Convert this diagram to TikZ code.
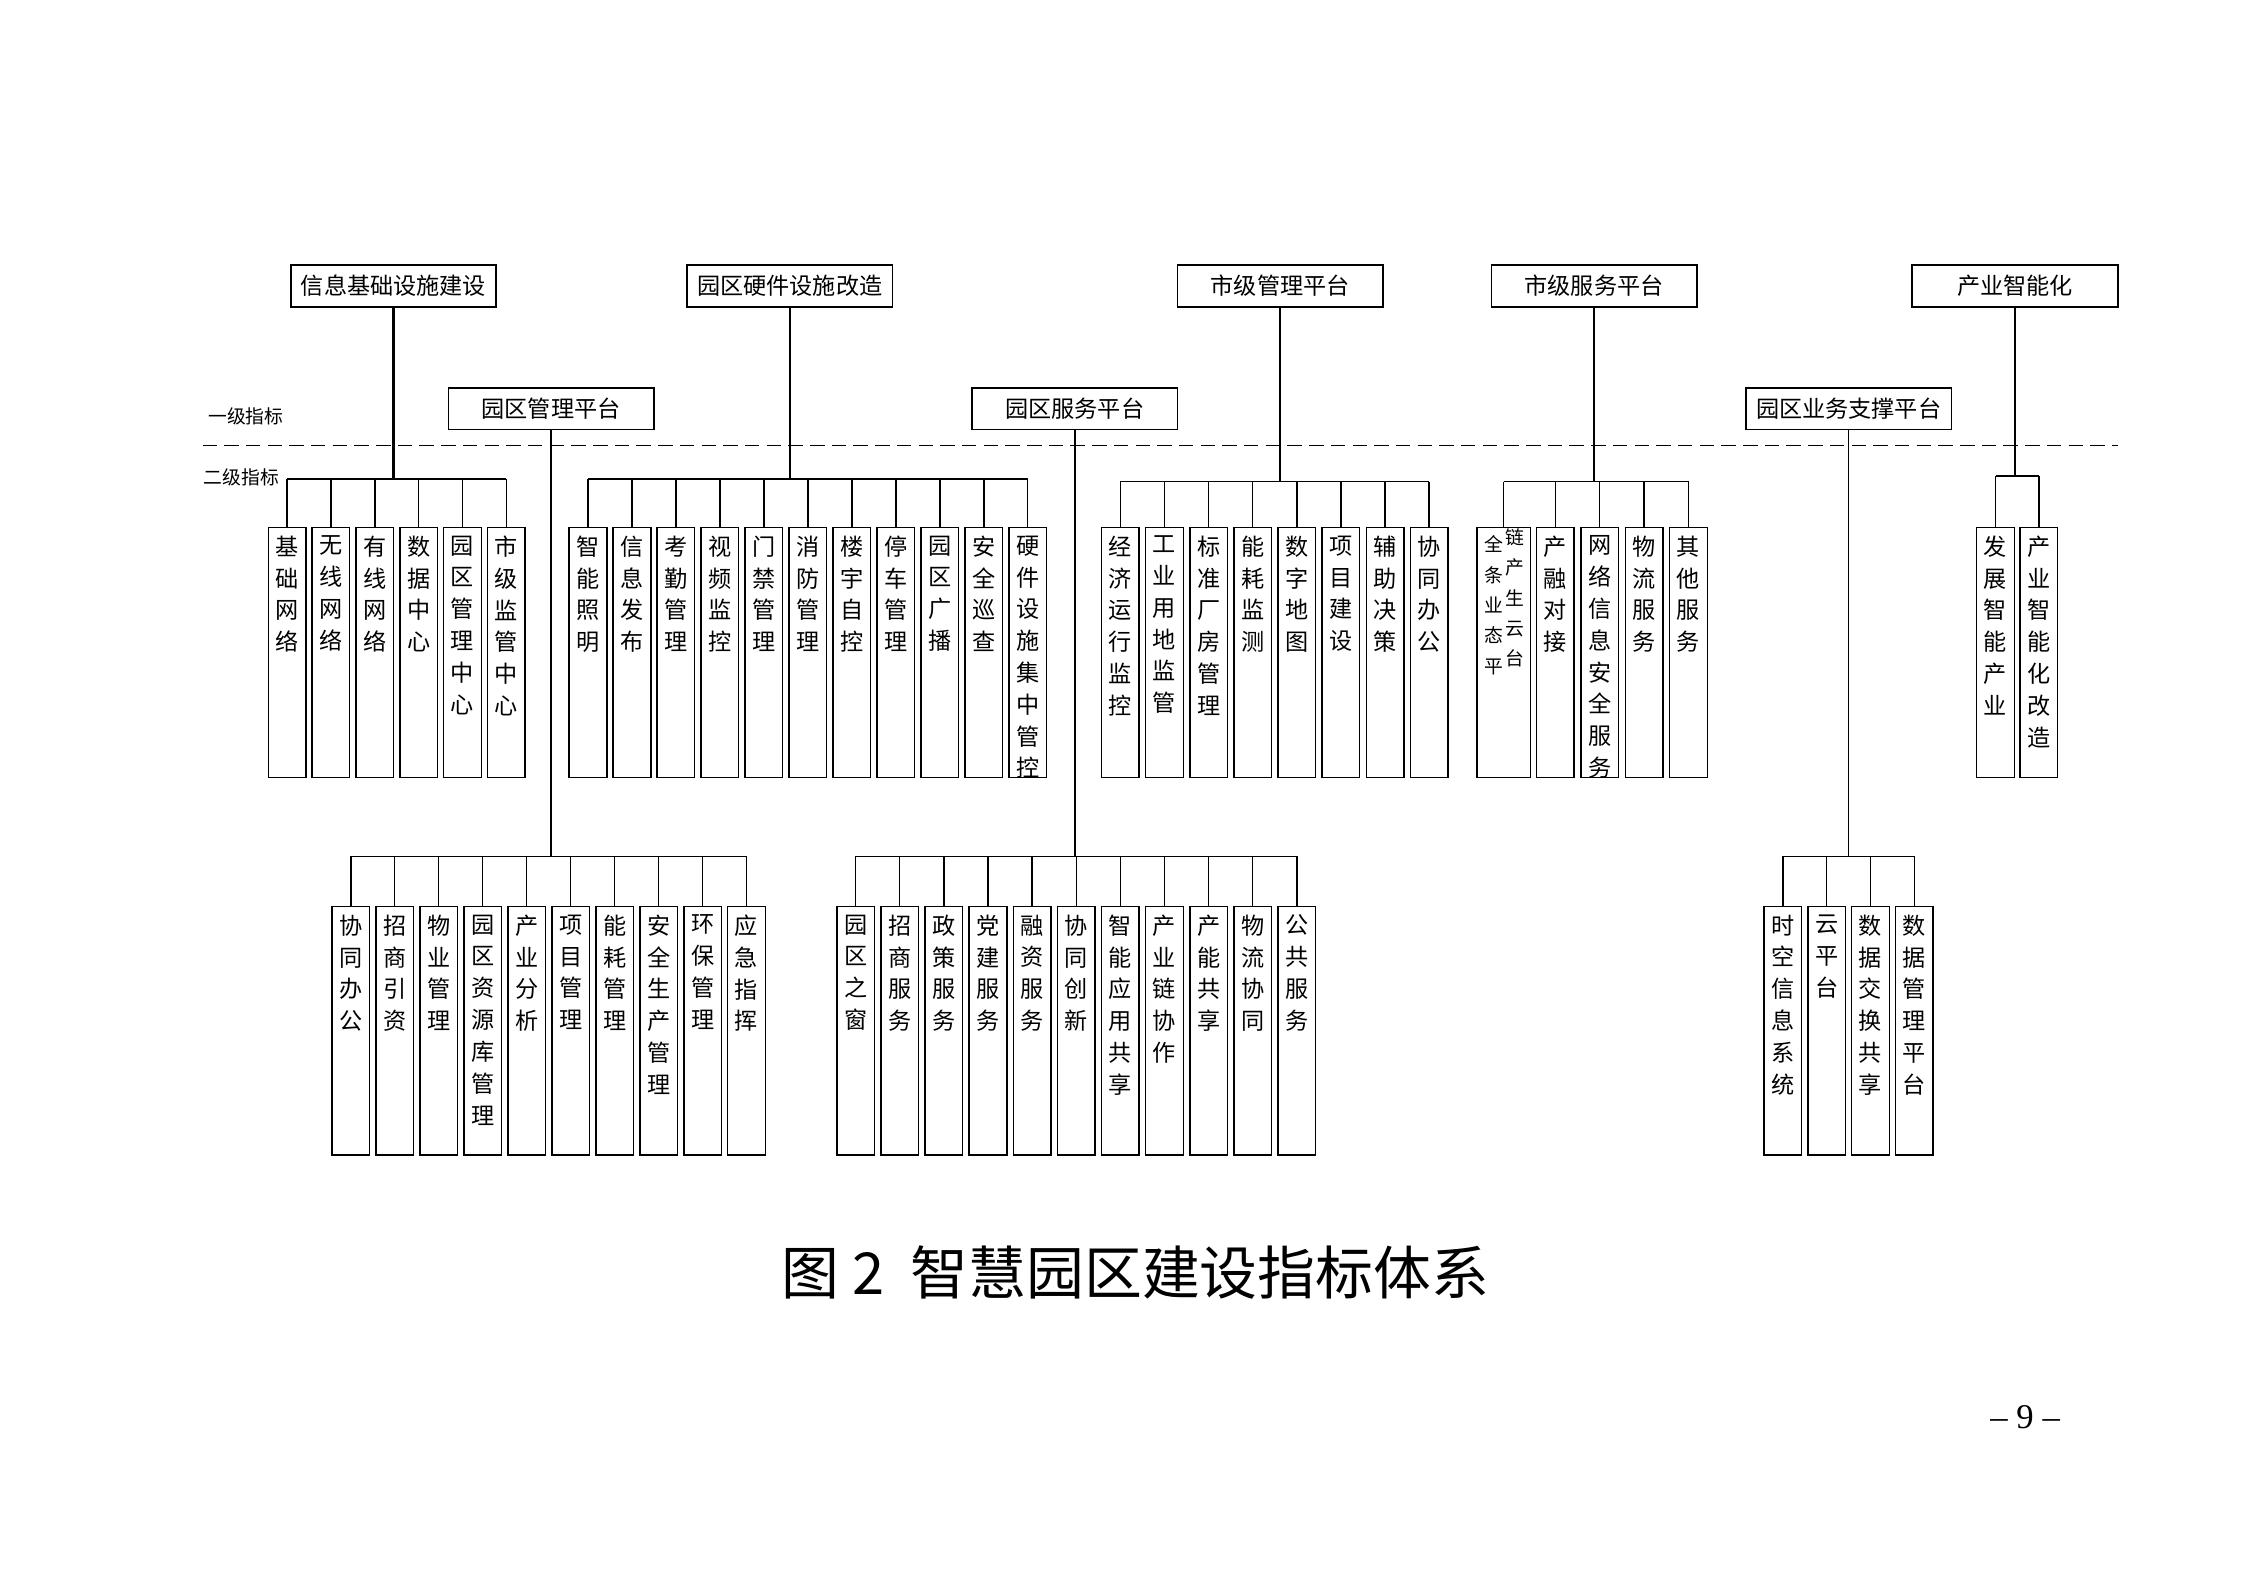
\documentclass[tikz,border=0pt]{standalone}
\usepackage{fontspec}
\newfontfamily\cjk{Noto Sans CJK SC}
\setmainfont{Liberation Serif}
\XeTeXlinebreaklocale "zh"
\XeTeXlinebreakskip=0pt plus 1pt
\tikzset{
  topbox/.style={draw,line width=0.6pt,minimum width=71pt,minimum height=14.5pt,inner sep=0pt,font=\cjk\fontsize{8}{9}\selectfont},
  leafbox/.style={draw,line width=0.5pt,minimum width=13pt,inner sep=0pt,anchor=north},
  vtext/.style={anchor=north,text width=9pt,align=center,inner sep=0pt,yshift=-3pt,font=\cjk\fontsize{8}{11}\selectfont},
  conn/.style={line width=0.5pt},
  thick conn/.style={line width=0.9pt},
  lbl/.style={font=\cjk\fontsize{6.5}{7}\selectfont,inner sep=0pt}
}
% #1 name, #2 x of first center, #3 pitch, #4 top y, #5 height(pt), #6 bus y, #7 list
\newcommand\leafgroup[7]{%
  \foreach \t [count=\i] in {#7}{%
    \pgfmathsetmacro\xx{#2+(\i-1)*#3}
    \node[leafbox,minimum height=#5] (#1\i) at (\xx,#4) {};
    \node[vtext] at (#1\i.north) {\t};
    \draw[conn] (#1\i.north) -- (\xx,#6);
  }%
}
\begin{document}
\begin{tikzpicture}[x=0.5pt,y=-0.5pt]
\useasboundingbox (0,0) rectangle (1552,1097);
% top level boxes
\node[topbox] (A) at (272,197.5) {信息基础设施建设};
\node[topbox] (B) at (546,197.5) {园区硬件设施改造};
\node[topbox] (C) at (885,197.5) {市级管理平台};
\node[topbox] (D) at (1102,197.5) {市级服务平台};
\node[topbox] (E) at (1393,197.5) {产业智能化};
\node[topbox] (F) at (381,282.5) {园区管理平台};
\node[topbox] (G) at (743,282.5) {园区服务平台};
\node[topbox] (H) at (1278,282.5) {园区业务支撑平台};
% labels and dashed line
\node[lbl] (l1) at (170,288) {一级指标};
\node[lbl] (l2) at (167,330) {二级指标};
\draw[dashed,line width=0.6pt,dash pattern=on 5pt off 2.5pt] (140,308) -- (1464,308);
% groups upper
\leafgroup{a}{198.5}{30.3}{364}{86.5pt}{331}{基础网络,无线网络,有线网络,数据中心,园区管理中心,市级监管中心}
\draw[conn] (a1.north |- 0,331) -- (a6.north |- 0,331);
\draw[thick conn] (A.south) -- (A.south |- 0,331);
\leafgroup{b}{406.5}{30.4}{364}{86.5pt}{331}{智能照明,信息发布,考勤管理,视频监控,门禁管理,消防管理,楼宇自控,停车管理,园区广播,安全巡查,硬件设施集中管控}
\draw[conn] (b1.north |- 0,331) -- (b11.north |- 0,331);
\draw[conn] (B.south) -- (B.south |- 0,331);
\leafgroup{c}{774.5}{30.5}{364}{86.5pt}{333}{经济运行监控,工业用地监管,标准厂房管理,能耗监测,数字地图,项目建设,辅助决策,协同办公}
\draw[conn] (c1.north |- 0,333) -- (c8.north |- 0,333);
\draw[thick conn] (C.south) -- (C.south |- 0,333);
% group D
\node[leafbox,minimum height=86.5pt,minimum width=18.5pt] (d1) at (1039.5,364) {};
\node[lbl,anchor=north,text width=6.5pt,align=center,font=\cjk\fontsize{6.5}{10.5}\selectfont] at (1033,370) {全条业态平};
\node[lbl,anchor=north,text width=6.5pt,align=center,font=\cjk\fontsize{6.5}{10.5}\selectfont] at (1047,365) {链产生云台};
\draw[conn] (d1.north) -- (1039.5,333);
\leafgroup{d}{1075.2}{30.7}{364}{86.5pt}{333}{产融对接,网络信息安全服务,物流服务,其他服务}
\draw[conn] (1039.5,333) -- (1167.3,333);
\draw[conn] (D.south) -- (D.south |- 0,333);
\leafgroup{e}{1379.5}{30}{364}{86.5pt}{329}{发展智能产业,产业智能化改造}
\draw[conn] (e1.north |- 0,329) -- (e2.north |- 0,329);
\draw[conn] (E.south) -- (E.south |- 0,329);
% lower groups
\leafgroup{f}{242.5}{30.4}{626}{86pt}{592}{协同办公,招商引资,物业管理,园区资源库管理,产业分析,项目管理,能耗管理,安全生产管理,环保管理,应急指挥}
\draw[conn] (f1.north |- 0,592) -- (f10.north |- 0,592);
\draw[conn] (F.south) -- (F.south |- 0,592);
\leafgroup{g}{591.5}{30.5}{626}{86pt}{592}{园区之窗,招商服务,政策服务,党建服务,融资服务,协同创新,智能应用共享,产业链协作,产能共享,物流协同,公共服务}
\draw[conn] (g1.north |- 0,592) -- (g11.north |- 0,592);
\draw[conn] (G.south) -- (G.south |- 0,592);
\leafgroup{h}{1232.5}{30.3}{626}{86pt}{592}{时空信息系统,云平台,数据交换共享,数据管理平台}
\draw[conn] (h1.north |- 0,592) -- (h4.north |- 0,592);
\draw[conn] (H.south) -- (H.south |- 0,592);
% caption and page number
\node[font=\cjk\fontsize{20}{22}\selectfont,inner sep=0pt] (cap) at (785,880) {图 2\ \ 智慧园区建设指标体系};
\node[font=\fontsize{12}{14}\selectfont,inner sep=0pt] (pg) at (1400,980) {– 9 –};
\end{tikzpicture}
\end{document}
